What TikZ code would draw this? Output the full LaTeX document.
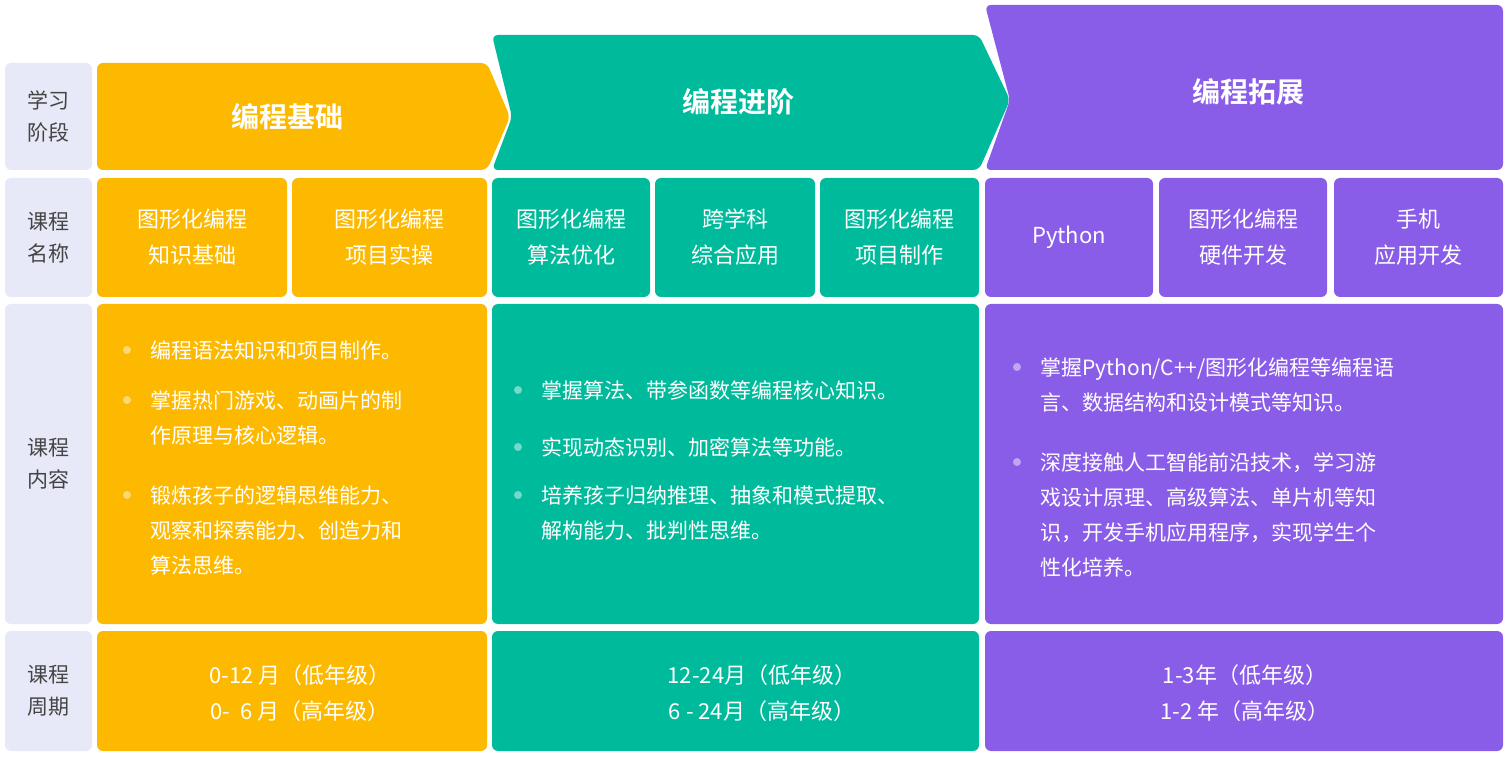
\documentclass[tikz,border=0pt]{standalone}
\usepackage{fontspec}
\setmainfont{Noto Sans CJK SC}
\newfontfamily\hdfont{Noto Sans CJK SC Bold}
\definecolor{cOrange}{HTML}{FDB900}
\definecolor{cGreen}{HTML}{00BB9B}
\definecolor{cPurple}{HTML}{8A5DE8}
\definecolor{cSide}{HTML}{E7E9F8}
\definecolor{cSideText}{HTML}{444444}
\tikzset{
  cellbox/.style={rounded corners=3pt},
  sidetxt/.style={text=cSideText,align=center,font=\fontsize{10.5}{16}\selectfont},
  celltxt/.style={text=white,align=center,font=\fontsize{11}{18}\selectfont},
  headtxt/.style={text=white,font=\hdfont\fontsize{14}{16}\selectfont},
  itemtxt/.style={text=white,align=left,anchor=north west,inner sep=0pt,
    font=\fontsize{10.5}{17.5}\selectfont},
}
\newcommand\itemdot[3]{\fill[white,opacity=0.45] (#1-23,#2+10) circle (4);
  \node[itemtxt] at (#1,#2) {#3};}
\begin{document}
\begin{tikzpicture}[x=0.5pt,y=-0.5pt]
\useasboundingbox (0,0) rectangle (1511,759);
% side column
\foreach \ya/\yb/\txt in {63/170/{学习\\阶段},178/297/{课程\\名称},304/624/{课程\\内容},631/751/{课程\\周期}}{
  \fill[cSide,cellbox] (5,\ya) rectangle (92,\yb);
  \node[sidetxt] at (48.5,{(\ya+\yb)/2}) {\txt};
}
% headers
\fill[cOrange,rounded corners=3pt] (97,63) -- (487,63) -- (510,117) -- (487,170) -- (97,170) -- cycle;
\fill[cGreen,rounded corners=3pt] (492,35) -- (979,35) -- (1010,100) -- (979,170) -- (492,170) -- (512,117) -- cycle;
\fill[cPurple,rounded corners=3pt] (985,5) -- (1503,5) -- (1503,170) -- (985,170) -- (1010,100) -- cycle;
\node[headtxt] (hBase) at (287,117) {编程基础};
\node[headtxt] (hAdv) at (738,102) {编程进阶};
\node[headtxt] (hExt) at (1248,92) {编程拓展};
% course names
\foreach \xa/\xb/\col/\txt in {97/287/cOrange/{图形化编程\\知识基础},292/487/cOrange/{图形化编程\\项目实操},
  492/650/cGreen/{图形化编程\\算法优化},655/815/cGreen/{跨学科\\综合应用},820/979/cGreen/{图形化编程\\项目制作},
  985/1153/cPurple/{Python},1159/1327/cPurple/{图形化编程\\硬件开发},1334/1503/cPurple/{手机\\应用开发}}{
  \fill[\col,cellbox] (\xa,178) rectangle (\xb,297);
  \node[celltxt] at ({(\xa+\xb)/2},237) {\txt};
}
% content and period cells
\foreach \xa/\xb/\col in {97/487/cOrange,492/979/cGreen,985/1503/cPurple}{
  \fill[\col,cellbox] (\xa,304) rectangle (\xb,624);
  \fill[\col,cellbox] (\xa,631) rectangle (\xb,751);
}
\itemdot{150}{340}{编程语法知识和项目制作。}
\itemdot{150}{390}{掌握热门游戏、动画片的制\\作原理与核心逻辑。}
\itemdot{150}{485}{锻炼孩子的逻辑思维能力、\\观察和探索能力、创造力和\\算法思维。}
\itemdot{541}{380}{掌握算法、带参函数等编程核心知识。}
\itemdot{541}{437}{实现动态识别、加密算法等功能。}
\itemdot{541}{485}{培养孩子归纳推理、抽象和模式提取、\\解构能力、批判性思维。}
\itemdot{1040}{357}{掌握Python/C++/图形化编程等编程语\\言、数据结构和设计模式等知识。}
\itemdot{1040}{452}{深度接触人工智能前沿技术，学习游\\戏设计原理、高级算法、单片机等知\\识，开发手机应用程序，实现学生个\\性化培养。}
% periods
\node[celltxt] (pBase) at (300,693) {0-12 月（低年级）\\0- \ 6 月（高年级）};
\node[celltxt] (pAdv) at (762,693) {12-24月（低年级）\\6 - 24月（高年级）};
\node[celltxt] (pExt) at (1245,693) {1-3年（低年级）\\1-2 年（高年级）};
\end{tikzpicture}
\end{document}
